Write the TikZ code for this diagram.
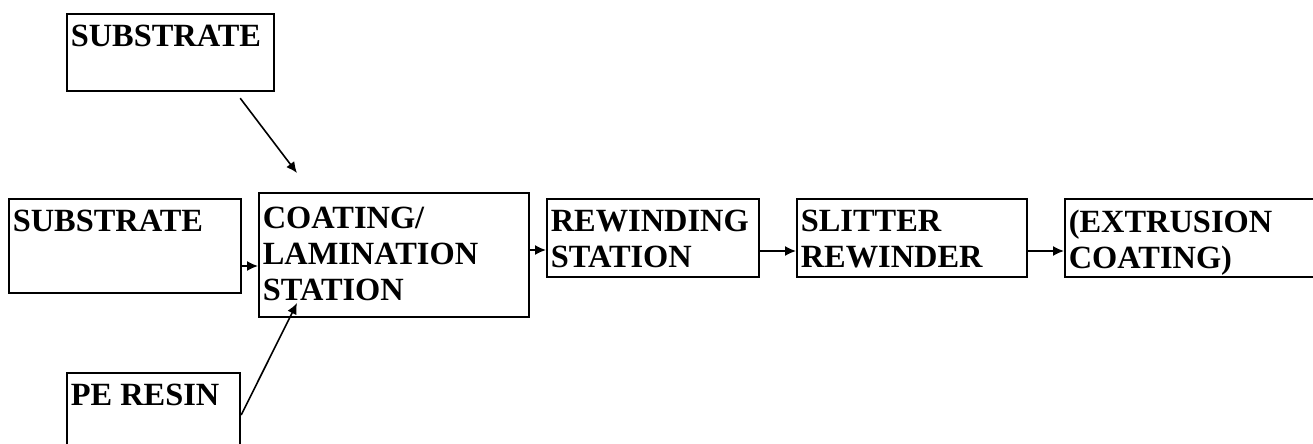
\documentclass[tikz,border=0pt]{standalone}
\usepackage{fontspec}
\setmainfont{Liberation Serif}
\usetikzlibrary{arrows.meta,%
		calc,%
		positioning}

\begin{document}
\begin{tikzpicture}[x=0.5pt,y=-0.5pt,
  blk/.style={draw,line width=1.1pt,anchor=north west,inner sep=0pt},
  txt/.style={anchor=north west,align=left,inner xsep=2.2pt,inner ysep=6pt,
    font=\bfseries\fontsize{16.2}{18}\selectfont},
  flow/.style={line width=0.8pt,-{Latex[length=5.5pt,width=5pt]}}]
  \useasboundingbox (0,0) rectangle (1313,444);
  \clip (0,0) rectangle (1313,444);
  \node[blk,minimum width=103.5pt,minimum height=38.5pt,
    label={[txt]north west:SUBSTRATE}] (subA) at (66,13) {}; %top
  \node[blk,minimum width=116pt,minimum height=47pt,
    label={[txt]north west:SUBSTRATE}] (subB) at (8,198) {}; %left
  \node[blk,minimum width=135pt,minimum height=62pt,
    label={[txt,inner ysep=7.5pt]north west:COATING/\\LAMINATION\\STATION}] (coat) at (258,192) {};
  \node[blk,minimum width=86.5pt,minimum height=50pt,
    label={[txt]north west:PE RESIN}] (pe) at (66,372) {};
  \node[blk,minimum width=106pt,minimum height=39pt,
    label={[txt]north west:REWINDING\\STATION}] (rew) at (546,198) {};
  \node[blk,minimum width=115pt,minimum height=39pt,
    label={[txt]north west:SLITTER\\REWINDER}] (slit) at (796,198) {};
  \node[blk,minimum width=140pt,minimum height=39pt,
    label={[txt]north west:(EXTRUSION\\COATING)}] (ext) at (1064,198) {};

  \coordinate (tipA) at (297,173);
  \coordinate (tipP) at (297,303);
  \draw[flow] ($(subA.south east)+(-35,6)$) -- (tipA);
  \draw[flow] (pe.east |- 0,415) -- (tipP);
  \draw[flow] (subB.east |- 0,266) -- (coat.west |- 0,266);
  \draw[flow] (coat.east |- 0,250) -- (rew.west |- 0,250);
  \draw[flow] (rew.east |- 0,251) -- (slit.west |- 0,251);
  \draw[flow] (slit.east |- 0,251) -- (ext.west |- 0,251);
\end{tikzpicture}
\end{document}
